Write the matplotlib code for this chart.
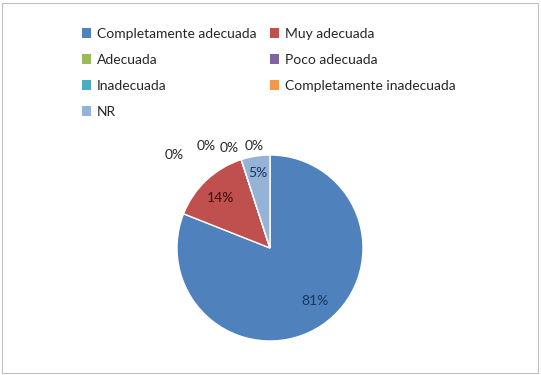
import matplotlib
matplotlib.use('Agg')
import matplotlib.pyplot as plt
from matplotlib.patches import Rectangle, Patch

# data
categories = ['Completamente adecuada', 'Muy adecuada', 'Adecuada', 'Poco adecuada',
              'Inadecuada', 'Completamente inadecuada', 'NR']
values = [81, 14, 0, 0, 0, 0, 5]
colors = ['#4F81BD', '#C0504D', '#9BBB59', '#8064A2', '#4BACC6', '#F79646', '#95B3D7']

plt.rcParams['font.family'] = ['Lato', 'DejaVu Sans']

W, H = 541, 375
fig = plt.figure(figsize=(W / 100, H / 100), dpi=100)
fig.patch.set_facecolor('white')

# outer chart border
fig.patches.append(Rectangle((2 / W, 2 / H), (W - 5) / W, (H - 5) / H,
                             transform=fig.transFigure, fill=False,
                             edgecolor='#BFBFBF', linewidth=0.8))

# pie area: center (270, 248) px, radius 93 px
cx, cy, r = 270, 248, 93
ax = fig.add_axes([(cx - r) / W, (H - cy - r) / H, 2 * r / W, 2 * r / H])

wedges, texts = ax.pie(values, colors=colors, startangle=90, counterclock=False,
                       radius=1.0, wedgeprops=dict(edgecolor='white', linewidth=1))
ax.set_xlim(-1, 1)
ax.set_ylim(-1, 1)
ax.set_aspect('equal')
ax.axis('off')

# labels for the non-zero slices (positions relative to the pie, data units)
lbl_color = '#17375E'
ax.text(0.48, -0.57, '81%', ha='center', va='center', fontsize=10, color=lbl_color)
ax.text(-0.53, 0.54, '14%', ha='center', va='center', fontsize=10, color='#3B0F0F')
ax.text(-0.13, 0.81, '5%', ha='center', va='center', fontsize=10, color=lbl_color)

# zero slices are labelled outside the pie
for x, y in [(-1.03, 1.0), (-0.69, 1.10), (-0.44, 1.08), (-0.17, 1.10)]:
    ax.text(x, y, '0%', ha='center', va='center', fontsize=10, color='#262626',
            clip_on=False)

# legend in two columns, filled row by row
handles = [Patch(facecolor=c, edgecolor='none') for c in colors]
order = [0, 2, 4, 6, 1, 3, 5]
leg = fig.legend([handles[i] for i in order], [categories[i] for i in order],
                 ncol=2, loc='upper left', bbox_to_anchor=(76 / W, 1 - 22 / H),
                 frameon=False, fontsize=10, handlelength=0.7, handleheight=0.7,
                 handletextpad=0.4, columnspacing=0.95, labelspacing=1.02,
                 borderaxespad=0)
for t in leg.get_texts():
    t.set_color('#262626')

fig.savefig('out.png', dpi=100)
